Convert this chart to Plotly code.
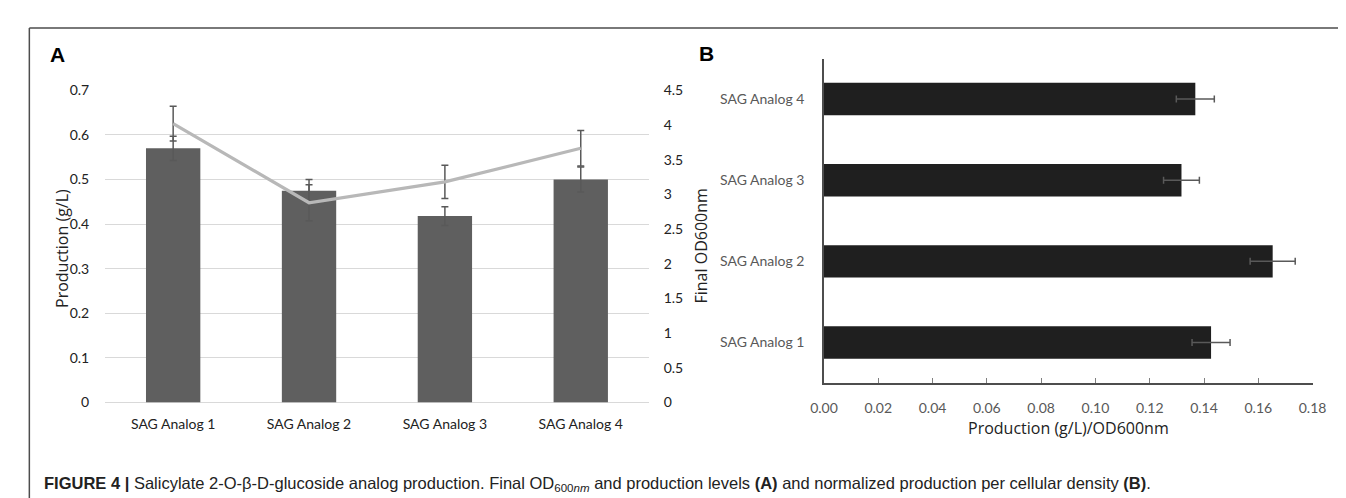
import plotly.graph_objects as go

categories = ["SAG Analog 1", "SAG Analog 2", "SAG Analog 3", "SAG Analog 4"]
production = [0.570, 0.475, 0.418, 0.500]
production_err = [0.027, 0.025, 0.021, 0.028]
od600 = [4.02, 2.88, 3.18, 3.665]
od600_err = [0.25, 0.26, 0.24, 0.255]
normalized = [0.1426, 0.1653, 0.1317, 0.1368]
normalized_err = [0.0070, 0.0083, 0.0066, 0.0070]
a_left_ticks = [0, 0.1, 0.2, 0.3, 0.4, 0.5, 0.6, 0.7]
a_right_ticks = [0, 0.5, 1, 1.5, 2, 2.5, 3, 3.5, 4, 4.5]
b_ticks = [0, 0.02, 0.04, 0.06, 0.08, 0.10, 0.12, 0.14, 0.16, 0.18]

W, H = 1346, 498
def px(x): return x / W
def py(y): return 1 - y / H

TICKF = "Lato, Carlito, Calibri, sans-serif"
TITLEF = "Open Sans, Segoe UI, sans-serif"
ERRC = "#595959"

fig = go.Figure()

fig.add_trace(go.Bar(
    x=categories, y=production, marker=dict(color="#5f5f5f", line=dict(width=0)),
    error_y=dict(type="data", array=production_err, color=ERRC, thickness=1.5, width=3.5),
    xaxis="x", yaxis="y", showlegend=False))
fig.add_trace(go.Scatter(
    x=categories, y=od600, mode="lines", line=dict(color="#b8b8b8", width=3.2),
    error_y=dict(type="data", array=od600_err, color=ERRC, thickness=1.5, width=3.5),
    xaxis="x", yaxis="y2", showlegend=False))
fig.add_trace(go.Bar(
    y=categories, x=normalized, orientation="h", marker=dict(color="#1f1f1f", line=dict(width=0)),
    error_x=dict(type="data", array=normalized_err, color=ERRC, thickness=1.5, width=3.5),
    xaxis="x3", yaxis="y3", showlegend=False))

fig.update_layout(
    width=W, height=H, margin=dict(l=0, r=0, t=0, b=0),
    paper_bgcolor="white", plot_bgcolor="rgba(0,0,0,0)",
    bargap=0.6,
    xaxis=dict(domain=[px(85), px(640)], anchor="y", showgrid=False, zeroline=False,
               showline=False, ticks="", tickfont=dict(family=TICKF, size=14, color="#222"),
               ticklabelstandoff=12, fixedrange=True),
    yaxis=dict(domain=[py(399), py(76)], anchor="x", range=[0, 0.7], tickvals=a_left_ticks,
               ticktext=[f"{v:g}" for v in a_left_ticks],
               showgrid=True, gridcolor="#d9d9d9", gridwidth=1, zeroline=True,
               zerolinecolor="#d9d9d9", zerolinewidth=1, showline=False, ticks="",
               tickfont=dict(family=TICKF, size=14, color="#222"), ticklabelstandoff=15),
    yaxis2=dict(overlaying="y", side="right", anchor="x", range=[0, 4.5], tickvals=a_right_ticks,
                ticktext=[f"{v:g}" for v in a_right_ticks],
                showgrid=False, zeroline=False, showline=False, ticks="",
                tickfont=dict(family=TICKF, size=14, color="#222"), ticklabelstandoff=14),
    xaxis3=dict(domain=[px(819), px(1318)], anchor="y3", range=[0, 0.18], tickvals=b_ticks,
                ticktext=[f"{v:.2f}" for v in b_ticks],
                showgrid=False, zeroline=False, showline=True, linecolor="#4d4d4d", linewidth=1.5,
                ticks="inside", ticklen=5, tickcolor="#7f7f7f", tickwidth=1,
                tickfont=dict(family=TICKF, size=14, color="#595959"), ticklabelstandoff=11),
    yaxis3=dict(domain=[py(379), py(43)], anchor="x3", range=[-0.5, 3.5],
                showgrid=False, zeroline=False, showline=True, linecolor="#4d4d4d", linewidth=1.5,
                ticks="", tickfont=dict(family=TICKF, size=14, color="#595959"), ticklabelstandoff=15),
)

ann = [
    dict(x=px(36), y=py(39), text="<b>A</b>", font=dict(family="Liberation Sans, Arial", size=21, color="black")),
    dict(x=px(699), y=py(38), text="<b>B</b>", font=dict(family="Liberation Sans, Arial", size=21, color="black")),
    dict(x=px(41), y=py(240), text="Production (g/L)", textangle=-90,
         font=dict(family=TITLEF, size=16, color="#222")),
    dict(x=px(693), y=py(237), text="Final OD600nm", textangle=-90,
         font=dict(family=TITLEF, size=16, color="#222")),
    dict(x=px(1069), y=py(426), text="Production (g/L)/OD600nm",
         font=dict(family=TITLEF, size=16, color="#222")),
    dict(x=px(20), y=py(484), xanchor="left",
         text="<b>FIGURE 4 |</b> Salicylate 2-O-β-D-glucoside analog production. Final OD<sub>600<i>nm</i></sub> "
              "and production levels <b>(A)</b> and normalized production per cellular density <b>(B)</b>.",
         font=dict(family="Liberation Sans, Arial", size=16.5, color="#222")),
]
for a in ann:
    a.setdefault("xanchor", "center")
    a.update(xref="paper", yref="paper", showarrow=False, yanchor="middle")
fig.update_layout(annotations=ann)

fig.update_layout(shapes=[
    dict(type="line", xref="paper", yref="paper", x0=px(7.5), x1=1, y0=py(11.5), y1=py(11.5),
         line=dict(color="#4d4d4d", width=1.5)),
    dict(type="line", xref="paper", yref="paper", x0=px(7.5), x1=px(7.5), y0=0, y1=py(11.5),
         line=dict(color="#4d4d4d", width=1.5)),
])

fig.write_html("out.html")
